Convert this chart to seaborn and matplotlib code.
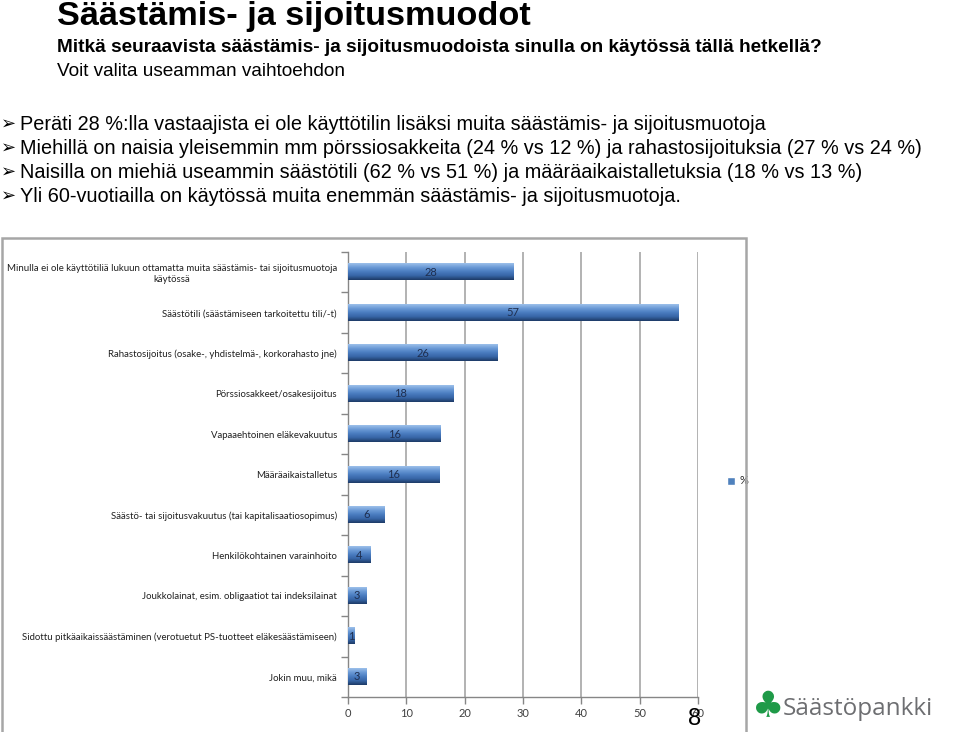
import matplotlib
matplotlib.use("Agg")
import matplotlib.pyplot as plt
import numpy as np
import pandas as pd
import seaborn as sns
from matplotlib.colors import LinearSegmentedColormap
from matplotlib.patches import Rectangle

categories = [
    "Minulla ei ole käyttötiliä lukuun ottamatta muita säästämis- tai sijoitusmuotoja\nkäytössä",
    "Säästötili (säästämiseen tarkoitettu tili/-t)",
    "Rahastosijoitus (osake-, yhdistelmä-, korkorahasto jne)",
    "Pörssiosakkeet/osakesijoitus",
    "Vapaaehtoinen eläkevakuutus",
    "Määräaikaistalletus",
    "Säästö- tai sijoitusvakuutus (tai kapitalisaatiosopimus)",
    "Henkilökohtainen varainhoito",
    "Joukkolainat, esim. obligaatiot tai indeksilainat",
    "Sidottu pitkäaikaissäästäminen (verotuetut PS-tuotteet eläkesäästämiseen)",
    "Jokin muu, mikä",
]
values = [28.4, 56.6, 25.6, 18.1, 15.8, 15.7, 6.3, 3.9, 3.1, 1.2, 3.1]
value_labels = ["28", "57", "26", "18", "16", "16", "6", "4", "3", "1", "3"]
x_ticks = [0, 10, 20, 30, 40, 50, 60]

title = "Säästämis- ja sijoitusmuodot"
subtitle1 = "Mitkä seuraavista säästämis- ja sijoitusmuodoista sinulla on käytössä tällä hetkellä?"
subtitle2 = "Voit valita useamman vaihtoehdon"
bullets = [
    "Peräti 28 %:lla vastaajista ei ole käyttötilin lisäksi muita säästämis- ja sijoitusmuotoja",
    "Miehillä on naisia yleisemmin mm pörssiosakkeita (24 % vs 12 %) ja rahastosijoituksia (27 % vs 24 %)",
    "Naisilla on miehiä useammin säästötili (62 % vs 51 %) ja määräaikaistalletuksia (18 % vs 13 %)",
    "Yli 60-vuotiailla on käytössä muita enemmän säästämis- ja sijoitusmuotoja.",
]

sns.set_theme(style="white")
plt.rcParams['font.family'] = ['Liberation Sans', 'DejaVu Sans']
small_font = ['Lato', 'DejaVu Sans']

W, H = 960, 732
fig = plt.figure(figsize=(W / 100, H / 100), dpi=100)

def fx(px):
    return px / W

def fy(py):
    return 1 - py / H

# Header texts
fig.text(fx(57), fy(17), title, fontsize=24.7, fontweight='bold', va='center', ha='left', color='black')
fig.text(fx(57), fy(47), subtitle1, fontsize=13.7, fontweight='bold', va='center', ha='left', color='black')
fig.text(fx(57), fy(72), subtitle2, fontsize=13.7, va='center', ha='left', color='black')
for i, b in enumerate(bullets):
    y = 124 + i * 24
    fig.text(fx(1), fy(y), "➢", fontsize=13, va='center', ha='left', color='black',
             family=['DejaVu Sans'])
    fig.text(fx(20), fy(y), b, fontsize=14.3, va='center', ha='left', color='black')

# Chart frame
frame = Rectangle((fx(2), -0.02), fx(744), fy(238) + 0.02, transform=fig.transFigure,
                  fill=False, edgecolor='#a6a6a6', linewidth=1.8)
fig.add_artist(frame)

ax = fig.add_axes([fx(348), fy(697), fx(698) - fx(348), fy(252) - fy(697)])
df = pd.DataFrame({"cat": categories, "val": values})
sns.barplot(data=df, x="val", y="cat", orient="h", ax=ax, width=0.4,
            color="#4f81bd", saturation=1, edgecolor="none")

cmap = LinearSegmentedColormap.from_list(
    "bar", ["#9cc0ea", "#6b9ad6", "#4a7cc0", "#3765a6", "#1d3a66"])
grad = np.linspace(0, 1, 64).reshape(-1, 1)
for p, lab in zip(ax.patches, value_labels):
    x0, y0, w, h = p.get_x(), p.get_y(), p.get_width(), p.get_height()
    p.set_alpha(0)
    ax.imshow(grad, extent=[x0, x0 + w, y0 + h, y0], aspect='auto', cmap=cmap,
              origin='upper', zorder=3, interpolation='bilinear')
    ax.text(x0 + w / 2, y0 + h / 2, lab, ha='center', va='center', fontsize=8,
            color='#1f2f50', zorder=4, family=small_font)

ax.set_xlim(0, 60)
ax.set_ylim(len(categories) - 0.5, -0.5)
ax.set_xticks(x_ticks)
ax.set_xticklabels([str(t) for t in x_ticks], fontsize=8, color='#404040',
                   family=small_font)
ax.set_yticks(range(len(categories)))
ax.set_yticklabels(categories, fontsize=6.9, color='#202020',
                   family=small_font, linespacing=1.3)
ax.tick_params(axis='y', length=0, pad=8)
for lbl in ax.get_yticklabels():
    lbl.set_horizontalalignment('right')
first = ax.get_yticklabels()[0]
first.set_multialignment('center')
# minor ticks at category boundaries
ax.set_yticks(np.arange(-0.5, len(categories), 1), minor=True)
ax.tick_params(axis='y', which='minor', length=5, color='#868686', width=1, left=True, direction='out')
ax.tick_params(axis='x', length=5, color='#868686', width=1, bottom=True, direction='out', pad=3)
ax.set_xlabel("")
ax.set_ylabel("")
ax.grid(axis='x', color='#a6a6a6', linewidth=1.2, zorder=0)
ax.set_axisbelow(True)
for s in ['top', 'right']:
    ax.spines[s].set_visible(False)
for s in ['left', 'bottom']:
    ax.spines[s].set_color('#868686')
    ax.spines[s].set_linewidth(1)

# Legend
ax.legend(handles=[Rectangle((0, 0), 1, 1, facecolor='#4f81bd')], labels=['%'],
          loc='center left', bbox_to_anchor=(fx(717), fy(481)), bbox_transform=fig.transFigure,
          frameon=False, handlelength=0.7, handleheight=0.7, handletextpad=0.4,
          prop={'family': small_font, 'size': 8})

# page number and logo
fig.text(fx(695), fy(719), "8", fontsize=17, ha='center', va='center', color='black')
fig.text(fx(768), fy(707), "♣", fontsize=26, ha='center', va='center', color='#1f9a48',
         family=['DejaVu Sans'])
fig.text(fx(783), fy(709), "Säästöpankki", fontsize=17.5, ha='left', va='center', color='#6d6e71',
         family=['Open Sans', 'DejaVu Sans'])

fig.savefig("out.png", dpi=100)
